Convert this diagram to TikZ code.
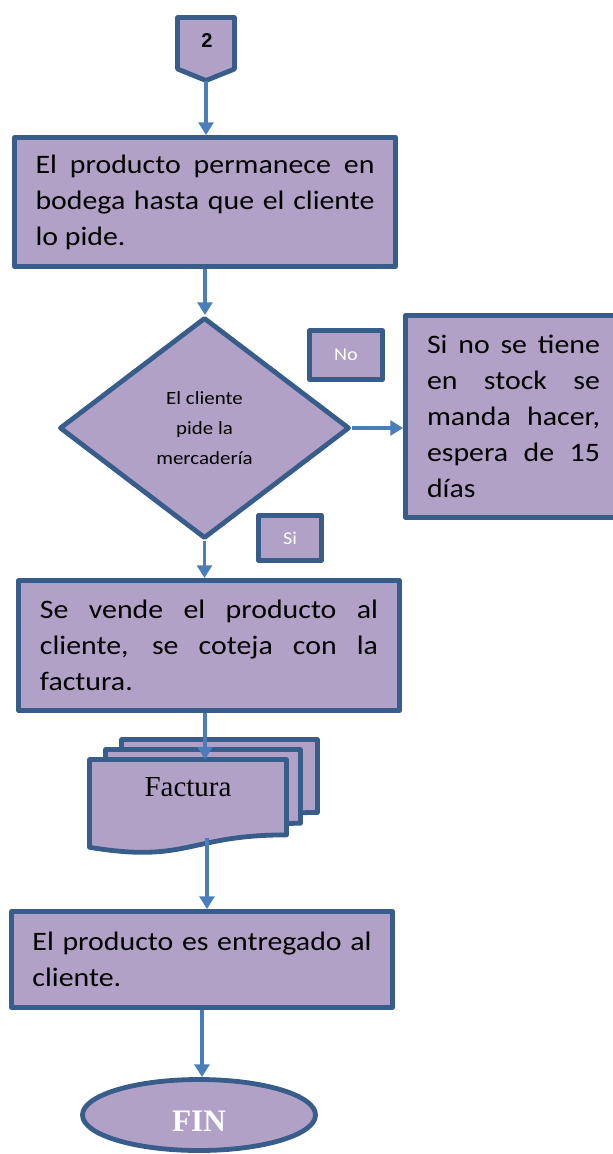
\documentclass[tikz,border=0pt]{standalone}
\usepackage{fontspec}
\setmainfont{Carlito}[FakeStretch=1.12]
\newfontfamily\timesf{Liberation Serif}
\newfontfamily\arialf{Liberation Sans}
\usetikzlibrary{shapes.geometric,arrows.meta}
\definecolor{fillc}{HTML}{B2A1C7}
\definecolor{edgec}{HTML}{385D8A}
\definecolor{arrc}{HTML}{4A7EBB}
\hyphenpenalty=10000
\exhyphenpenalty=10000
\parindent=0pt
\newcommand\docshape[4]{%
  \draw[shapebox] (#1,#2) -- ({#1+#3},#2) -- ({#1+#3},{#2+0.802*#4})
    .. controls ({#1+0.5*#3},{#2+0.802*#4}) and ({#1+0.5*#3},{#2+1.1075*#4}) .. (#1,{#2+0.934*#4}) -- cycle;}
\begin{document}
\begin{tikzpicture}[x=0.75pt,y=-0.75pt,
  shapebox/.style={draw=edgec, fill=fillc, line width=3.6pt, line join=round},
  textbox/.style={shapebox, rectangle, inner sep=0pt, align=justify, font=\fontsize{20}{27}\selectfont},
  tagbox/.style={shapebox, rectangle, inner sep=0pt, text=white, font=\fontsize{13.5}{16}\selectfont},
  arr/.style={draw=arrc, line width=2.8pt, -{Triangle[width=11pt,length=9.5pt]}},
]
\useasboundingbox (0,0) rectangle (613,1154);

% off-page connector
\draw[shapebox] (177.5,17.5) -- (234.5,17.5) -- (234.5,69) -- (206,80.5) -- (177.5,69) -- cycle;
\node[font=\arialf\bfseries\fontsize{15}{18}\selectfont] (n2) at (207,41) {2};
\coordinate (c2) at (206,80.5);

% box 1
\node[textbox, minimum width=381*0.75pt, minimum height=129*0.75pt, text width=339*0.75pt] (b1) at (205,202)
  {El producto permanece en\linebreak bodega hasta que el cliente\linebreak lo pide.};

% decision
\node[shapebox, diamond, minimum width=290*0.75pt, minimum height=221*0.75pt, inner sep=0pt,
  align=center, font=\fontsize{14}{22.5}\selectfont] (d) at (204.5,428)
  {El cliente\\pide la\\mercadería};

% right box
\node[textbox, minimum width=216*0.75pt, minimum height=202*0.75pt, text width=173*0.75pt] (rb) at (513.5,416.5)
  {Si no se tiene\linebreak en stock se\linebreak manda hacer,\linebreak espera de 15\linebreak días};

% tags
\node[tagbox, minimum width=73*0.75pt, minimum height=49*0.75pt] (no) at (346,355) {No};
\node[tagbox, minimum width=63*0.75pt, minimum height=45*0.75pt] (si) at (290,538) {Si};

% box 3
\node[textbox, minimum width=381*0.75pt, minimum height=130*0.75pt, text width=338*0.75pt] (b3) at (209,645.5)
  {Se vende el producto al\linebreak cliente, se coteja con la\linebreak factura.};

% documents
\docshape{121.5}{739.5}{196}{91}
\docshape{105.5}{749.5}{195}{92}
\docshape{89.5}{759.5}{197}{94}
\node[font=\timesf\fontsize{21.75}{26}\selectfont] (fact) at (188,787) {Factura};
\coordinate (doctop) at (205,759.5);
\coordinate (docbot) at (207,838);

% box 4
\node[textbox, minimum width=381*0.75pt, minimum height=96*0.75pt, text width=339*0.75pt] (b4) at (202,959.5)
  {El producto es entregado al\linebreak cliente.};

% end
\node[shapebox, ellipse, minimum width=233*0.75pt, minimum height=71*0.75pt, inner sep=0pt,
  text=white, text height=25pt, text depth=0pt, font=\timesf\bfseries\fontsize{23.5}{28}\selectfont] (fin) at (199,1115) {FIN};

% connectors
\draw[arr] (c2) -- (c2 |- b1.north);
\draw[arr] (b1.south) -- (b1.south |- d.north);
\draw[arr] (d.east) -- (d.east -| rb.west);
\draw[arr] (d.south) -- (d.south |- b3.north);
\draw[arr] (b3.south -| doctop) -- (doctop);
\draw[arr] (docbot) -- (docbot |- b4.north);
\draw[arr] (b4.south) -- (b4.south |- fin.north);
\end{tikzpicture}
\end{document}
